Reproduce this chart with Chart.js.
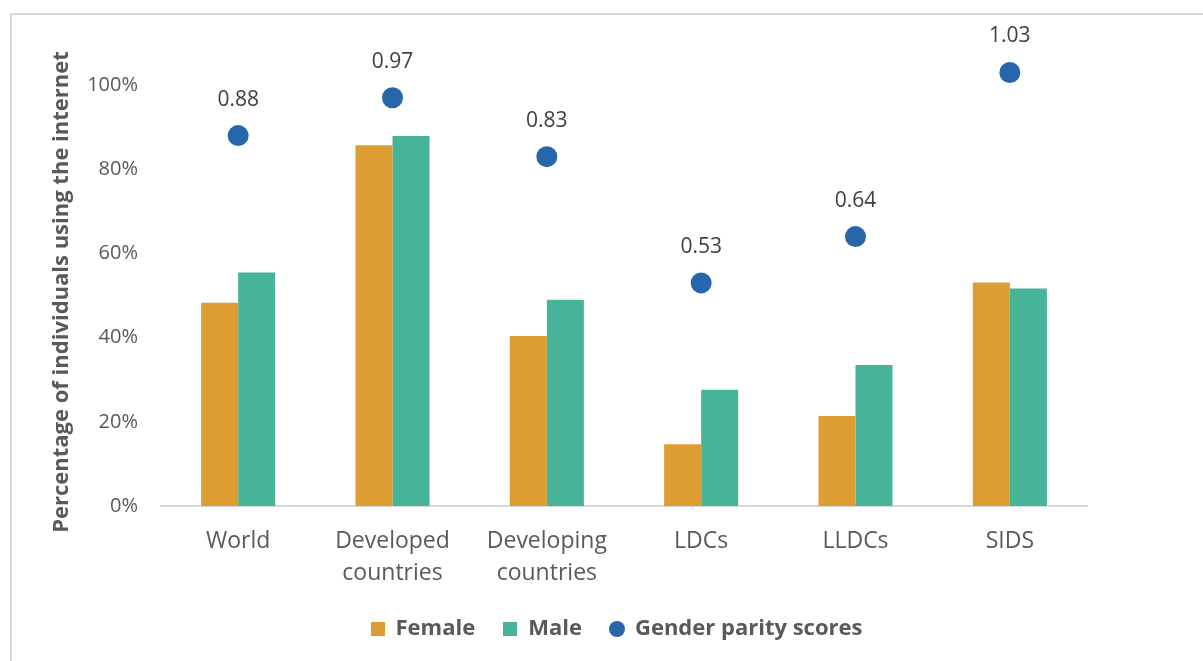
<!DOCTYPE html>
<html>
<head>
<meta charset="utf-8">
<script src="https://cdn.jsdelivr.net/npm/chart.js@4/dist/chart.umd.min.js"></script>
<style>
  html, body { margin: 0; padding: 0; background: #ffffff; overflow: hidden; }
  #frame { position: absolute; left: 10px; top: 13px; width: 1400px; height: 900px;
           border: 2px solid #d9d9d9; box-sizing: border-box; }
  #wrap { position: absolute; left: 0; top: 0; width: 1203px; height: 661px; }
</style>
</head>
<body>
<div id="frame"></div>
<div id="wrap"><canvas id="chart" width="1203" height="661"></canvas></div>
<script>
// Internet use by sex and gender parity, by country group
const categories = [['World'], ['Developed', 'countries'], ['Developing', 'countries'], ['LDCs'], ['LLDCs'], ['SIDS']];
const femaleShare = [0.483, 0.857, 0.404, 0.147, 0.214, 0.531];
const maleShare   = [0.555, 0.879, 0.490, 0.276, 0.335, 0.517];
const parityScores = [0.88, 0.97, 0.83, 0.53, 0.64, 1.03];
const yTickValues = [0, 0.2, 0.4, 0.6, 0.8, 1.0];

const TEXT_GREY = '#595959';
const FONT = "'Open Sans', 'Noto Sans', sans-serif";

function makeMarker(shape, size, color) {
  const c = document.createElement('canvas');
  c.width = size; c.height = size;
  const g = c.getContext('2d');
  g.fillStyle = color;
  if (shape === 'circle') {
    g.beginPath(); g.arc(size / 2, size / 2, size / 2, 0, Math.PI * 2); g.fill();
  } else {
    g.fillRect(0, 0, size, size);
  }
  return c;
}

const COLORS = { female: '#DD9D33', male: '#47B399', parity: '#2866AC' };
const legendMarkers = [
  makeMarker('rect', 14, COLORS.female),
  makeMarker('rect', 14, COLORS.male),
  makeMarker('circle', 16, COLORS.parity)
];

// value labels above the parity points
const parityLabels = {
  id: 'parityLabels',
  afterDatasetsDraw(chart) {
    const meta = chart.getDatasetMeta(2);
    const ctx = chart.ctx;
    ctx.save();
    ctx.font = '21px ' + FONT;
    ctx.fillStyle = '#404040';
    ctx.textAlign = 'center';
    ctx.textBaseline = 'middle';
    meta.data.forEach((pt, i) => {
      ctx.fillText(parityScores[i].toFixed(2), pt.x, pt.y - 36);
    });
    ctx.restore();
  }
};

// rotated y-axis title
const yTitle = {
  id: 'yTitle',
  afterDraw(chart) {
    const ctx = chart.ctx;
    ctx.save();
    ctx.translate(62, 292);
    ctx.rotate(-Math.PI / 2);
    ctx.font = 'bold 22px ' + FONT;
    ctx.fillStyle = TEXT_GREY;
    ctx.textAlign = 'center';
    ctx.textBaseline = 'middle';
    ctx.fillText('Percentage of individuals using the internet', 0, 0);
    ctx.restore();
  }
};

// centre the legend on the whole canvas rather than on the padded layout width
const legendShift = {
  id: 'legendShift',
  afterLayout(chart) {
    const lg = chart.legend;
    if (!lg) return;
    const dx = chart.width / 2 + 15 - (lg.left + lg.right) / 2;
    lg.left += dx;
    lg.right += dx;
  }
};

new Chart(document.getElementById('chart'), {
  data: {
    labels: categories,
    datasets: [
      { type: 'bar', label: 'Female', data: femaleShare, backgroundColor: COLORS.female,
        barPercentage: 1, categoryPercentage: 0.48, order: 2 },
      { type: 'bar', label: 'Male', data: maleShare, backgroundColor: COLORS.male,
        barPercentage: 1, categoryPercentage: 0.48, order: 2 },
      { type: 'line', label: 'Gender parity scores', data: parityScores, showLine: false,
        pointRadius: 10.5, pointHoverRadius: 10.5, pointBackgroundColor: COLORS.parity,
        pointBorderWidth: 0, borderColor: COLORS.parity, backgroundColor: COLORS.parity, order: 1 }
    ]
  },
  options: {
    responsive: false,
    animation: false,
    events: [],
    layout: { padding: { left: 0, right: 116, top: 43, bottom: 11 } },
    scales: {
      x: {
        grid: { display: false, drawTicks: false },
        border: { display: true, color: '#d9d9d9', width: 2 },
        ticks: { color: TEXT_GREY, font: { family: FONT, size: 23, lineHeight: 1.38 },
                 padding: 20, maxRotation: 0, autoSkip: false },
        afterFit(scale) { scale.height = 84; }
      },
      y: {
        min: 0, max: 1.1,
        grid: { display: false, drawTicks: false },
        border: { display: false },
        afterBuildTicks(scale) { scale.ticks = yTickValues.map(v => ({ value: v })); },
        ticks: { color: TEXT_GREY, font: { family: FONT, size: 20 }, padding: 23,
                 callback: v => Math.round(v * 100) + '%' },
        afterFit(scale) { scale.width = 161; }
      }
    },
    plugins: {
      tooltip: { enabled: false },
      legend: {
        position: 'bottom',
        labels: {
          color: TEXT_GREY,
          font: { family: FONT, size: 22, weight: 'bold' },
          usePointStyle: true,
          boxWidth: 14, boxHeight: 14,
          padding: 28,
          generateLabels(chart) {
            return chart.data.datasets.map((ds, i) => ({
              text: ds.label, pointStyle: legendMarkers[i], fillStyle: ds.backgroundColor,
              strokeStyle: ds.backgroundColor, lineWidth: 0, hidden: false, datasetIndex: i,
              fontColor: TEXT_GREY
            }));
          }
        }
      }
    }
  },
  plugins: [parityLabels, yTitle, legendShift]
});
</script>
</body>
</html>
